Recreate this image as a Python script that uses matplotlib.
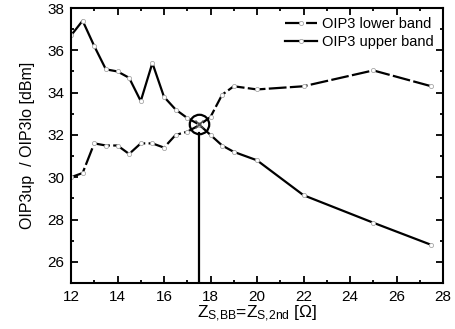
import matplotlib
matplotlib.use("Agg")
import matplotlib.pyplot as plt
import numpy as np

plt.rcParams['font.family'] = ['Liberation Sans', 'DejaVu Sans']
plt.rcParams['mathtext.fontset'] = 'custom'
plt.rcParams['mathtext.rm'] = 'Liberation Sans'
plt.rcParams['mathtext.it'] = 'Liberation Sans'

z = [12, 12.5, 13, 13.5, 14, 14.5, 15, 15.5, 16, 16.5, 17, 17.5, 18, 18.5, 19, 20, 22, 25, 27.5]
oip3_lower = [30.0, 30.2, 31.6, 31.5, 31.5, 31.1, 31.6, 31.6, 31.4, 32.0, 32.15, 32.45,
              32.85, 33.9, 34.3, 34.15, 34.3, 35.05, 34.3]
oip3_upper = [36.7, 37.4, 36.2, 35.1, 35.0, 34.7, 33.6, 35.4, 33.8, 33.2, 32.8, 32.5,
              32.0, 31.5, 31.2, 30.8, 29.15, 27.85, 26.8]
z_opt = 17.5
oip3_opt = 32.5

fig = plt.figure(figsize=(4.55, 3.29), dpi=100)
ax = fig.add_axes([71/455, 1-283/329, 372/455, 275/329])

mk = dict(marker='o', markersize=3, markerfacecolor='white', markeredgecolor='0.65',
          markeredgewidth=0.6)
ax.plot(z, oip3_lower, color='black', lw=1.6, dashes=(8, 1.5), label='OIP3 lower band', **mk)
ax.plot(z, oip3_upper, color='black', lw=1.6, label='OIP3 upper band', **mk)

# optimum point marker and vertical line
ax.plot([z_opt, z_opt], [25, oip3_opt - 0.4], color='black', lw=1.6)
ax.plot(z_opt, oip3_opt, marker='o', markersize=14, markerfacecolor='none',
        markeredgecolor='black', markeredgewidth=1.6)
ax.plot(z_opt, oip3_opt, marker='x', markersize=6, color='0.3', markeredgewidth=1.0)

ax.set_xlim(12, 28)
ax.set_ylim(25, 38)
ax.set_xticks(np.arange(12, 29, 2))
ax.set_yticks(np.arange(26, 39, 2))
ax.set_xticks(np.arange(12, 29, 1), minor=True)
ax.set_yticks(np.arange(25, 39, 1), minor=True)
ax.tick_params(which='both', direction='in', top=True, right=True, labelsize=11, width=1.3)
ax.tick_params(which='major', length=5, pad=5)
ax.tick_params(which='minor', length=2.5)
for s in ax.spines.values():
    s.set_linewidth(1.5)

ax.set_xlabel(r'$\mathrm{Z_{S{,}BB}}$=$\mathrm{Z_{S{,}2nd}}$ [$\Omega$]', fontsize=12.5, labelpad=0)
ax.set_ylabel('OIP3up  / OIP3lo [dBm]', fontsize=11.5, labelpad=9)

ax.legend(loc='upper right', frameon=False, fontsize=10.5, handlelength=2.2,
          borderaxespad=0.2, handletextpad=0.4, labelspacing=0.3)

fig.savefig('out.png', dpi=100)
